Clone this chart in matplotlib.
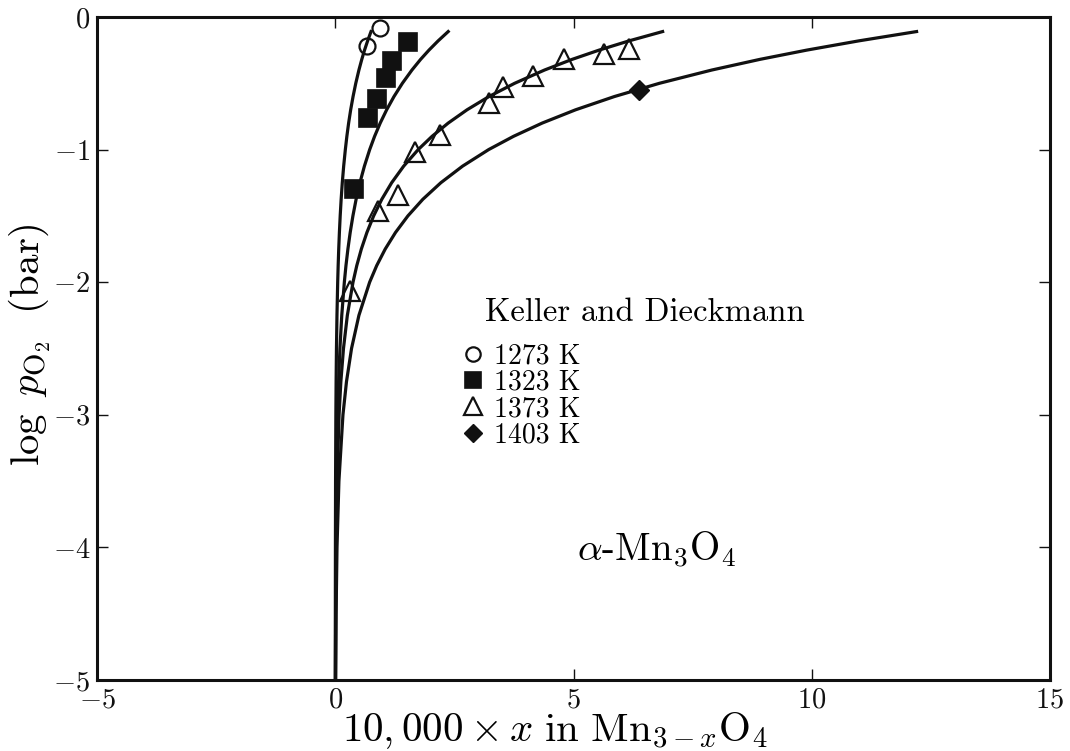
import numpy as np
import matplotlib
matplotlib.use("Agg")
import matplotlib.pyplot as plt

plt.rcParams['font.family'] = 'serif'
plt.rcParams['font.serif'] = ['cmr10']
plt.rcParams['mathtext.fontset'] = 'cm'
plt.rcParams['axes.formatter.use_mathtext'] = True
plt.rcParams['axes.unicode_minus'] = True

# model curves: log pO2 levels and 10^4 x for each temperature
curve_logp = [-5, -4.5, -4, -3.5, -3, -2.75, -2.5, -2.25, -2.0, -1.875, -1.75,
              -1.625, -1.5, -1.375, -1.25, -1.125, -1.0, -0.9, -0.8, -0.7, -0.6,
              -0.5, -0.4, -0.32, -0.25, -0.18, -0.11]
curve_1273 = [0.0007, 0.0014, 0.0029, 0.0059, 0.0121, 0.0173, 0.0247, 0.0353, 0.0505,
              0.0604, 0.0722, 0.0863, 0.103, 0.123, 0.147, 0.176, 0.211, 0.243, 0.280,
              0.323, 0.373, 0.430, 0.496, 0.556, 0.614, 0.679, 0.75]
curve_1323 = [0.0035, 0.0067, 0.0131, 0.0256, 0.050, 0.0698, 0.0975, 0.136, 0.190,
              0.224, 0.265, 0.313, 0.370, 0.437, 0.517, 0.611, 0.722, 0.825, 0.943,
              1.078, 1.232, 1.408, 1.609, 1.790, 1.966, 2.159, 2.37]
curve_1373 = [0.0036, 0.0079, 0.0170, 0.0368, 0.0796, 0.117, 0.172, 0.253, 0.372,
              0.451, 0.547, 0.664, 0.805, 0.976, 1.183, 1.435, 1.740, 2.031, 2.370,
              2.765, 3.226, 3.765, 4.392, 4.968, 5.536, 6.167, 6.87]
curve_1403 = [0.0081, 0.0171, 0.0361, 0.0763, 0.161, 0.235, 0.341, 0.496, 0.721,
              0.869, 1.048, 1.264, 1.524, 1.837, 2.215, 2.671, 3.219, 3.741, 4.343,
              5.043, 5.858, 6.804, 7.903, 8.908, 9.894, 10.99, 12.2]

# Keller and Dieckmann data
x_1273 = [0.94, 0.67]
y_1273 = [-0.085, -0.216]
x_1323 = [1.53, 1.18, 1.06, 0.88, 0.69, 0.39]
y_1323 = [-0.19, -0.33, -0.46, -0.62, -0.76, -1.30]
x_1373 = [0.31, 0.89, 1.32, 1.67, 2.20, 3.23, 3.51, 4.14, 4.80, 5.63, 6.16]
y_1373 = [-2.07, -1.46, -1.34, -1.015, -0.89, -0.65, -0.53, -0.445, -0.32, -0.28, -0.24]
x_1403 = [6.37]
y_1403 = [-0.55]

temps = ['1273 K', '1323 K', '1373 K', '1403 K']

ink = '#111111'

fig = plt.figure(figsize=(10.7, 7.51), dpi=100)
ax = fig.add_axes([0.0907, 0.0945, 0.8906, 0.8829])

for xs in (curve_1273, curve_1323, curve_1373, curve_1403):
    ax.plot(xs, curve_logp, color=ink, lw=2.3, solid_joinstyle='round', zorder=2)

h1, = ax.plot(x_1273, y_1273, 'o', ms=11.5, mfc='none', mec=ink, mew=1.6, zorder=3)
h2, = ax.plot(x_1323, y_1323, 's', ms=13, mfc=ink, mec=ink, mew=1.2, zorder=3)
h3, = ax.plot(x_1373, y_1373, '^', ms=15, mfc='none', mec=ink, mew=1.6, zorder=3)
h4, = ax.plot(x_1403, y_1403, 'D', ms=10, mfc=ink, mec=ink, mew=1.0, zorder=3)

ax.legend([h1, h2, h3, h4], temps, loc='upper left',
          bbox_to_anchor=(0.386, 0.508), frameon=False, fontsize=20,
          markerscale=0.9, handlelength=0.6, handletextpad=0.45,
          labelspacing=0.0, borderpad=0.0, borderaxespad=0.0)
ax.text(6.49, -2.23, 'Keller and Dieckmann', fontsize=23.5, ha='center', va='center')

ax.text(6.75, -4.02, r'$\alpha$-Mn$_3$O$_4$', fontsize=28, ha='center', va='center')

ax.set_xlim(-5, 15)
ax.set_ylim(-5, 0)
ax.set_xticks([-5, 0, 5, 10, 15])
ax.set_yticks([-5, -4, -3, -2, -1, 0])
ax.tick_params(direction='in', length=8, width=1.0, top=True, right=True,
               labelsize=20.5, pad=5, colors=ink)
for sp in ax.spines.values():
    sp.set_linewidth(2.2)
    sp.set_color(ink)

fig.text(555 / 1070, 9.5 / 751, r'$10,000 \times x\ \mathrm{in\ Mn}_{3-x}\mathrm{O}_4$',
         fontsize=29.5, ha='center', va='baseline')
fig.text(30 / 1070, 1 - 345 / 751, r'$\log\ p_{\mathrm{O}_2}\ \ (\mathrm{bar})$',
         fontsize=29.5, ha='center', va='center', rotation=90)

fig.savefig('out.png', dpi=100)
